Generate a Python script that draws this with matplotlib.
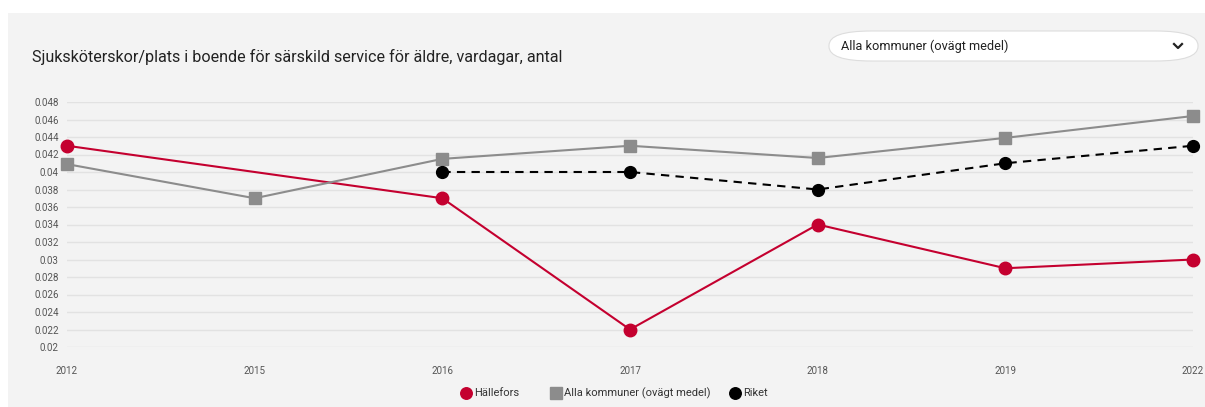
import matplotlib
matplotlib.use("Agg")
import matplotlib.pyplot as plt
import numpy as np
from matplotlib.patches import FancyBboxPatch, Rectangle
from matplotlib.ticker import FixedLocator, FuncFormatter

plt.rcParams['font.family'] = ['Roboto', 'DejaVu Sans']

years = ["2012", "2015", "2016", "2017", "2018", "2019", "2022"]
hallefors_years = ["2012", "2016", "2017", "2018", "2019", "2022"]
hallefors_vals = [0.043, 0.037, 0.022, 0.034, 0.029, 0.030]
alla = [0.0409, 0.037, 0.0415, 0.043, 0.0416, 0.0439, 0.0464]
riket_years = ["2016", "2017", "2018", "2019", "2022"]
riket = [0.040, 0.040, 0.038, 0.041, 0.043]
yticks = [0.02, 0.022, 0.024, 0.026, 0.028, 0.03, 0.032, 0.034, 0.036,
          0.038, 0.04, 0.042, 0.044, 0.046, 0.048]

W, H = 1205, 407
fig = plt.figure(figsize=(W / 100, H / 100), dpi=100)
fig.patch.set_facecolor("white")
bg = "#f3f3f3"
fig.add_artist(Rectangle((8 / W, 0), 1 - 8 / W, 1 - 13 / H, transform=fig.transFigure,
                         facecolor=bg, edgecolor="none", zorder=0))

ax = fig.add_axes([67 / W, 1 - 347 / H, (1193 - 67) / W, (347 - 102) / H])
ax.set_facecolor(bg)
ax.patch.set_alpha(0)

xi = {y: i for i, y in enumerate(years)}
red = "#c4002f"
grey = "#8c8c8c"

ax.plot([xi[y] for y in hallefors_years], hallefors_vals, color=red, lw=1.5,
        marker="o", ms=9, zorder=3, clip_on=False)
ax.plot(range(len(years)), alla, color=grey, lw=1.5, marker="s", ms=8.5,
        zorder=3, clip_on=False)
ax.plot([xi[y] for y in riket_years], riket, color="black", lw=1.5, ls=(0, (4, 3)),
        marker="o", ms=8.5, zorder=4, clip_on=False)

ax.set_xlim(0, len(years) - 1)
ax.set_ylim(0.02, 0.048)
ax.yaxis.set_major_locator(FixedLocator(yticks))
ax.yaxis.set_major_formatter(FuncFormatter(lambda v, p: f"{v:.3f}".rstrip("0")))
ax.set_xticks(range(len(years)))
ax.set_xticklabels(years)
ax.tick_params(axis="both", length=0, labelsize=7, labelcolor="#555555")
ax.tick_params(axis="y", pad=6)
ax.tick_params(axis="x", pad=14)
ax.grid(axis="y", color="#e2e2e2", lw=1)
ax.set_axisbelow(True)
for s in ax.spines.values():
    s.set_visible(False)

fig.text(32 / W, 1 - 57 / H, "Sjuksköterskor/plats i boende för särskild service för äldre, vardagar, antal",
         fontsize=11.6, color="#222222", va="center", ha="left")

# dropdown
fig.add_artist(FancyBboxPatch((829 / W, 1 - 61 / H), (1198 - 829) / W, 30 / H,
                              boxstyle="round,pad=0,rounding_size=0.035",
                              transform=fig.transFigure, facecolor="white",
                              edgecolor="#dddddd", lw=0.8, mutation_aspect=H / W * 3.0))
fig.text(841 / W, 1 - 46 / H, "Alla kommuner (ovägt medel)", fontsize=9.2,
         color="#222222", va="center", ha="left")
fig.add_artist(plt.Line2D([1174 / W, 1178 / W, 1182 / W],
                          [1 - 44 / H, 1 - 48 / H, 1 - 44 / H],
                          transform=fig.transFigure, color="#222222", lw=1.6))

# legend
leg_y = 1 - 393 / H
items = [(466, "o", red, "Hällefors", 8.3), (556, "s", grey, "Alla kommuner (ovägt medel)", 8),
         (735, "o", "black", "Riket", 8.3)]
for x, m, c, lab, ms in items:
    fig.add_artist(plt.Line2D([x / W], [leg_y], marker=m, color=c, ms=ms,
                              transform=fig.transFigure, ls="none"))
    fig.text((x + 8) / W, leg_y, lab, fontsize=8.05, color="#333333", va="center", ha="left")

fig.savefig("out.png", dpi=100, facecolor=fig.get_facecolor())
